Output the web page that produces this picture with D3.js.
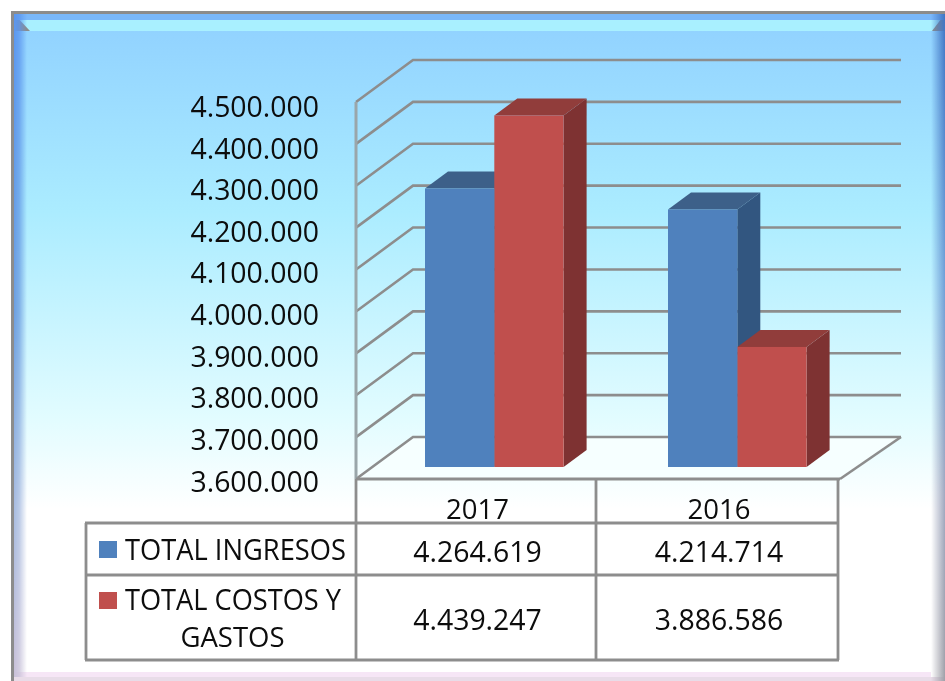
<!DOCTYPE html>
<html><head><meta charset="utf-8">
<script src="https://cdn.jsdelivr.net/npm/d3@7"></script>
<style>html,body{margin:0;padding:0;background:#fff}svg{display:block}text{font-family:"Open Sans",sans-serif;fill:#0a0a0a}</style>
</head><body><div id="c"></div>
<script>
const categories = ["2017","2016"];
const seriesNames = ["TOTAL INGRESOS","TOTAL COSTOS Y GASTOS"];
const ingresos = [4264619,4214714];
const costos = [4439247,3886586];
const tickValues = [3600000,3700000,3800000,3900000,4000000,4100000,4200000,4300000,4400000,4500000];
const cellLabels = [["4.264.619","4.214.714"],["4.439.247","3.886.586"]];
const fmt = d3.formatLocale({decimal:",",thousands:".",grouping:[3],currency:["",""]}).format(",d");

const svg = d3.select("#c").append("svg").attr("width",945).attr("height",681);
const defs = svg.append("defs");
const f = defs.append("filter").attr("id","soft").attr("x","-5%").attr("y","-5%").attr("width","110%").attr("height","110%");
f.append("feGaussianBlur").attr("stdDeviation",0.5);
function grad(id,horizontal,stops){
  const g=defs.append("linearGradient").attr("id",id).attr("x1",0).attr("y1",0).attr("x2",horizontal?1:0).attr("y2",horizontal?0:1);
  stops.forEach(s=>g.append("stop").attr("offset",s[0]).attr("stop-color",s[1]));
}
grad("bg",false,[[0,"#92d3ff"],[0.28,"#abecff"],[0.6,"#e2fcff"],[0.74,"#ffffff"],[1,"#ffffff"]]);
grad("bevL",false,[[0,"#5a96f0"],[0.45,"#6c9ee0"],[0.75,"#a8bce0"],[1,"#c8c0d8"]]);
grad("bevR",false,[[0,"#3f74c4"],[0.4,"#6f9fd8"],[0.72,"#a0a8c0"],[1,"#a0a0a8"]]);
grad("mL",true,[[0,"#ffffff"],[0.4,"#c8c8c8"],[1,"#000000"]]);
grad("mR",true,[[0,"#000000"],[0.5,"#808080"],[1,"#ffffff"]]);
defs.append("mask").attr("id","maskL").attr("maskContentUnits","objectBoundingBox")
  .append("rect").attr("width",1).attr("height",1).attr("fill","url(#mL)");
defs.append("mask").attr("id","maskR").attr("maskContentUnits","objectBoundingBox")
  .append("rect").attr("width",1).attr("height",1).attr("fill","url(#mR)");

const root = svg.append("g").attr("filter","url(#soft)");
// frame
const L=11,T=11,R=945,B=681;
root.append("rect").attr("x",L).attr("y",T).attr("width",R-L).attr("height",B-T).attr("fill","#8c8c8c");
const iL=14,iT=14,iR=945,iB=677,fT=31;
root.append("rect").attr("x",iL).attr("y",fT).attr("width",iR-iL).attr("height",iB-fT).attr("fill","url(#bg)");
root.append("rect").attr("x",iL).attr("y",iB).attr("width",iR-iL).attr("height",4).attr("fill","#e8dce8");
root.append("rect").attr("x",iL).attr("y",672).attr("width",iR-iL-14).attr("height",5).attr("fill","#f6e6f6");
root.append("polygon").attr("points",[[iL,iT],[iR,iT],[932,fT],[30,fT]].join(" ")).attr("fill","#a9f0ff");
root.append("rect").attr("x",iL).attr("y",iT).attr("width",iR-iL).attr("height",6).attr("fill","#7ab8fa");
root.append("rect").attr("x",iL).attr("y",iT).attr("width",13).attr("height",iB-iT).attr("fill","url(#bevL)").attr("mask","url(#maskL)");
root.append("rect").attr("x",931).attr("y",iT).attr("width",14).attr("height",iB+4-iT).attr("fill","url(#bevR)").attr("mask","url(#maskR)");

// scales
const y = d3.scaleLinear().domain([3600000,4500000]).range([479,102]);
const yLabel = d3.scaleLinear().domain([3600000,4500000]).range([491.5,117]);
const DX=57, DY=-42, wallRight=901;
const x0 = d3.scaleBand().domain(categories).range([356,842]);
const barW=69.3, barDX=23, barDY=-17, barShiftY=-12;

// floor
root.append("polygon").attr("points",[[356,479],[413,437],[wallRight,437],[840,479]].join(" ")).attr("fill","#f6ffff");
// grid
const gridColor="#8d8d8d";
root.append("g").selectAll("polyline").data(tickValues).join("polyline")
  .attr("points",d=>[[356,y(d)],[356+DX,y(d)+DY],[wallRight,y(d)+DY]].join(" "))
  .attr("fill","none").attr("stroke",gridColor).attr("stroke-width",2.6);
root.append("line").attr("x1",wallRight).attr("y1",437).attr("x2",840).attr("y2",479).attr("stroke",gridColor).attr("stroke-width",2.6);
root.append("line").attr("x1",356).attr("y1",y(4500000)).attr("x2",356).attr("y2",479).attr("stroke","#9aa6aa").attr("stroke-width",3);

// bars
const series=[{vals:ingresos,front:"#4f81bd",top:"#3e6189",side:"#335680",off:0},
              {vals:costos,front:"#c0504d",top:"#913c3a",side:"#7e3230",off:1}];
const barsData=[];
categories.forEach((c,i)=>series.forEach(s=>barsData.push({c,i,v:s.vals[i],s})));
barsData.sort((a,b)=>a.i-b.i||b.s.off-a.s.off);
const bx=d=>x0(d.c)+69+d.s.off*barW;
const by=d=>y(d.v)+barShiftY, bb=y(3600000)+barShiftY;
const g=root.append("g");
g.selectAll("polygon.side").data(barsData).join("polygon").attr("class","side")
  .attr("points",d=>[[bx(d)+barW,by(d)],[bx(d)+barW+barDX,by(d)+barDY],[bx(d)+barW+barDX,bb+barDY],[bx(d)+barW,bb]].join(" "))
  .attr("fill",d=>d.s.side);
g.selectAll("polygon.top").data(barsData).join("polygon").attr("class","top")
  .attr("points",d=>[[bx(d),by(d)],[bx(d)+barDX,by(d)+barDY],[bx(d)+barW+barDX,by(d)+barDY],[bx(d)+barW,by(d)]].join(" "))
  .attr("fill",d=>d.s.top);
g.selectAll("rect.f").data(barsData).join("rect").attr("class","f")
  .attr("x",bx).attr("y",by).attr("width",barW).attr("height",d=>bb-by(d)).attr("fill",d=>d.s.front);

// tick labels
const FS=28.4;
root.append("g").selectAll("text").data(tickValues).join("text")
  .attr("x",319).attr("y",d=>yLabel(d)).attr("text-anchor","end").attr("font-size",FS)
  .text(d=>fmt(d));

// table
const tx=[86,356,596,838], ty=[479,523,575,660];
const tc="#8d8d8d";
const tg=root.append("g").attr("stroke",tc).attr("stroke-width",2.8);
tg.append("line").attr("x1",356).attr("x2",840).attr("y1",ty[0]).attr("y2",ty[0]);
[ty[1],ty[2],ty[3]].forEach(v=>tg.append("line").attr("x1",tx[0]-1).attr("x2",tx[3]+1).attr("y1",v).attr("y2",v));
tg.append("line").attr("x1",tx[0]).attr("x2",tx[0]).attr("y1",ty[1]).attr("y2",ty[3]);
[tx[1],tx[2],tx[3]].forEach(v=>tg.append("line").attr("x1",v).attr("x2",v).attr("y1",ty[0]).attr("y2",ty[3]));
const cx=i=>(tx[i+1]+tx[i+2])/2+(i===1?2:1.5);
root.append("g").selectAll("text").data(categories).join("text")
  .attr("x",(d,i)=>cx(i)).attr("y",519).attr("text-anchor","middle").attr("font-size",27.5).text(d=>d);
const rowBase=[561.5,630];
cellLabels.forEach((row,r)=>row.forEach((t,i)=>{
  root.append("text").attr("x",cx(i)).attr("y",rowBase[r]).attr("text-anchor","middle").attr("font-size",FS).text(t);
}));
// legend
root.append("rect").attr("x",99).attr("y",541).attr("width",18).attr("height",17).attr("fill",series[0].front);
root.append("rect").attr("x",99).attr("y",592).attr("width",18).attr("height",17).attr("fill",series[1].front);
root.append("text").attr("x",125).attr("y",560).attr("font-size",FS).attr("textLength",221).attr("lengthAdjust","spacingAndGlyphs").text(seriesNames[0]);
root.append("text").attr("x",125).attr("y",610).attr("font-size",FS).attr("textLength",216).attr("lengthAdjust","spacingAndGlyphs").text("TOTAL COSTOS Y");
root.append("text").attr("x",232.5).attr("y",647).attr("text-anchor","middle").attr("font-size",27.5).text("GASTOS");
</script></body></html>
